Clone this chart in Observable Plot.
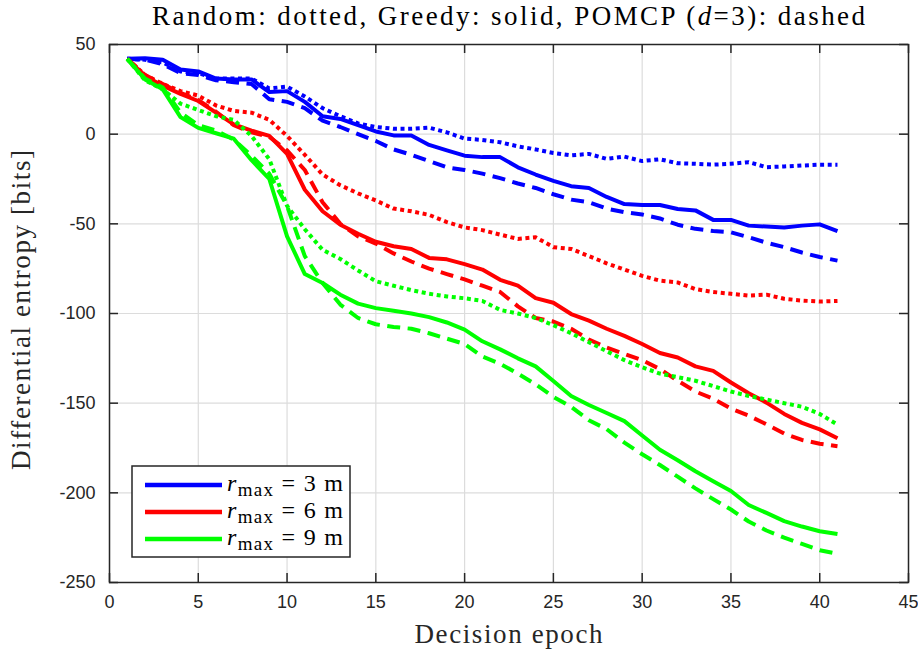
<!DOCTYPE html>
<html>
<head>
<meta charset="utf-8">
<script src="https://cdn.jsdelivr.net/npm/d3@7"></script>
<script src="https://cdn.jsdelivr.net/npm/@observablehq/plot@0.6"></script>
<style>
  html, body { margin: 0; padding: 0; background: #fff; }
  #chart { width: 918px; height: 653px; }
</style>
</head>
<body>
<div id="chart"></div>
<script>
// Decision epochs
const epochs = [1,2,3,4,5,6,7,8,9,10,11,12,13,14,15,16,17,18,19,20,21,22,23,24,25,26,27,28,29,30,31,32,33,34,35,36,37,38,39,40,41];

// Differential entropy [bits], r_max = 3 m
const r3Random = [42,41.5,40,35,34,31,31,31,25.5,26.5,21,14.5,10,6,4,3,3,3.6,1,-2.5,-3.2,-4.5,-6.8,-8.5,-10.5,-11.8,-11,-13.8,-12.5,-15,-14,-16.2,-16.5,-17,-16.5,-15.6,-18.4,-18,-17.5,-17,-17];
const r3Greedy = [42,42.3,41.5,36,35,31,30.5,30.5,23.5,24,18,10,8.5,5,1.5,-0.7,-0.7,-6,-9,-12,-12.8,-12.8,-18.5,-22.5,-26,-29,-30,-35,-39,-39.5,-39.5,-41.7,-42.5,-47.8,-47.8,-51,-51.5,-52,-51,-50.3,-54];
const r3Pomcp = [42,41.5,39,34,33,30,29,28,19.5,18,14.5,7.5,4,0,-3.8,-8.5,-11.5,-15,-18.5,-20,-22,-24.5,-27.5,-30,-33.5,-36.5,-38,-41.5,-43.5,-44.8,-47,-50.5,-52.8,-54,-54.7,-57.5,-60.5,-63,-66,-68.5,-70.5];

// r_max = 6 m
const r6Random = [42,33,28,24,21.5,16,13,12,8,-1,-11.5,-22.5,-28.5,-33,-37,-41.5,-43,-45,-49,-52,-53.5,-56,-58.4,-57.5,-63,-64,-68,-72,-75.5,-79,-81.7,-82.7,-86.4,-88,-89,-90,-89.5,-91.8,-92.8,-93.3,-93];
const r6Greedy = [42,32.5,27,22.5,18.5,12,5.5,2,-1,-11,-31,-43,-50.5,-55.5,-60,-62.5,-64,-69,-69.8,-72.5,-75.5,-81.2,-84.5,-91.4,-94,-100.3,-104,-108.5,-112.5,-117,-122,-124.5,-129.5,-132,-138.5,-144.5,-149.7,-156,-161,-164.6,-169.6];
const r6Pomcp = [42,33,28,23,19,12.5,5,1,-1.5,-9,-20,-38,-50,-57,-61,-66.5,-71,-75,-78,-81,-84.5,-88,-96,-102.5,-104.5,-108.5,-114.5,-119,-122.5,-126,-131,-137.5,-143.5,-147.5,-153,-157,-161.8,-167,-170.5,-172.6,-174];

// r_max = 9 m
const r9Random = [42,30,25,17,13.5,10,8,-1,-14,-40,-53,-64.5,-69.6,-76,-82,-84.5,-87,-89,-90.5,-91.5,-93,-98,-100,-102.5,-106.5,-111,-116,-121,-126,-130,-133.5,-135.5,-137.5,-140.5,-143.5,-146,-148,-150,-152,-156,-162];
const r9Greedy = [42,30.5,25,9.5,3.5,0.5,-2.5,-14.5,-25,-57,-78,-83,-89.5,-94.5,-97,-98.5,-100,-102,-105,-109,-115.5,-120,-125,-129.5,-137.6,-146,-151,-155.5,-160,-168,-176,-181.8,-188,-193.5,-199,-206.8,-211.2,-215.8,-218.8,-221.4,-223];
const r9Pomcp = [42,31,26,12,5,2,-3,-12,-22,-40,-68,-83,-95,-102.5,-106,-107.5,-108.5,-111,-114,-117,-124,-128,-133.5,-139.5,-146.5,-152,-159.5,-164.5,-172,-178.5,-184.5,-191,-197.5,-203.5,-209.3,-216,-221,-225,-228.5,-232,-234];

// Axis ticks
const xTicks = [0,5,10,15,20,25,30,35,40,45];
const yTicks = [50,0,-50,-100,-150,-200,-250];

// Legend entries
const radii = ["3", "6", "9"];
const colors = ["#0000ff", "#ff0000", "#00ff00"];

// Line styles per policy
const policyDash = { Random: "4,3.6", Greedy: null, POMCP: "13,7.5" };

const seriesList = [
  { r: "3", policy: "Random", values: r3Random },
  { r: "3", policy: "Greedy", values: r3Greedy },
  { r: "3", policy: "POMCP",  values: r3Pomcp },
  { r: "6", policy: "Random", values: r6Random },
  { r: "6", policy: "Greedy", values: r6Greedy },
  { r: "6", policy: "POMCP",  values: r6Pomcp },
  { r: "9", policy: "Random", values: r9Random },
  { r: "9", policy: "Greedy", values: r9Greedy },
  { r: "9", policy: "POMCP",  values: r9Pomcp }
];

const W = 918, H = 653;
const mL = 109, mR = 10, mT = 44, mB = 71;
const plotW = W - mL - mR, plotH = H - mT - mB;
const tickLen = 9;
const axisColor = "#262626";
const serif = "'Liberation Serif', 'DejaVu Serif', serif";

const lineMarks = seriesList.map(s => {
  const data = epochs.map((e, i) => ({ epoch: e, h: s.values[i] }));
  const color = colors[radii.indexOf(s.r)];
  const opts = { x: "epoch", y: "h", stroke: color, strokeWidth: 4, strokeLinejoin: "round", strokeLinecap: "butt" };
  if (policyDash[s.policy]) opts.strokeDasharray = policyDash[s.policy];
  return Plot.lineY(data, opts);
});

const chart = Plot.plot({
  width: W,
  height: H,
  marginLeft: mL,
  marginRight: mR,
  marginTop: mT,
  marginBottom: mB,
  style: { fontFamily: "'Liberation Sans', Arial, sans-serif", fontSize: "18px", color: axisColor, background: "#fff" },
  x: { domain: [0, 45] },
  y: { domain: [-250, 50] },
  marks: [
    Plot.gridX(xTicks, { stroke: "#dcdcdc", strokeOpacity: 1, strokeWidth: 1.2 }),
    Plot.gridY(yTicks, { stroke: "#dcdcdc", strokeOpacity: 1, strokeWidth: 1.2 }),
    ...lineMarks,
    Plot.frame({ stroke: axisColor, strokeWidth: 1.5 }),
    // inward ticks on all four sides
    Plot.tickX(xTicks, { x: d => d, insetTop: plotH - tickLen, stroke: axisColor, strokeWidth: 1.5 }),
    Plot.tickX(xTicks, { x: d => d, insetBottom: plotH - tickLen, stroke: axisColor, strokeWidth: 1.5 }),
    Plot.tickY(yTicks, { y: d => d, insetRight: plotW - tickLen, stroke: axisColor, strokeWidth: 1.5 }),
    Plot.tickY(yTicks, { y: d => d, insetLeft: plotW - tickLen, stroke: axisColor, strokeWidth: 1.5 }),
    Plot.axisX(xTicks, { tickSize: 0, tickPadding: 13, label: null, fontSize: 18, tickFormat: d => String(d) }),
    Plot.axisY(yTicks, { tickSize: 0, tickPadding: 14, label: null, fontSize: 18, tickFormat: d => String(d) })
  ]
});

document.getElementById("chart").appendChild(chart);

const svg = d3.select(chart);
const cx = mL + plotW / 2;

// Title with italic depth symbol
const title = svg.append("text")
  .attr("x", cx)
  .attr("y", 25)
  .attr("text-anchor", "middle")
  .attr("font-family", serif)
  .attr("font-size", 27)
  .attr("fill", "#000")
  .attr("textLength", 713)
  .attr("lengthAdjust", "spacing");
title.append("tspan").text("Random: dotted, Greedy: solid, POMCP (");
title.append("tspan").attr("font-style", "italic").text("d");
title.append("tspan").text("=3): dashed");

// Axis titles
svg.append("text")
  .attr("x", cx).attr("y", 643)
  .attr("text-anchor", "middle")
  .attr("font-family", serif).attr("font-size", 27).attr("fill", axisColor)
  .attr("textLength", 188).attr("lengthAdjust", "spacing")
  .text("Decision epoch");
svg.append("text")
  .attr("transform", `translate(30,${mT + plotH / 2 - 3}) rotate(-90)`)
  .attr("text-anchor", "middle")
  .attr("font-family", serif).attr("font-size", 27).attr("fill", axisColor)
  .attr("textLength", 320).attr("lengthAdjust", "spacing")
  .text("Differential entropy [bits]");

// Legend box (lower left)
const lg = svg.append("g").attr("transform", "translate(132,466)");
lg.append("rect")
  .attr("width", 218).attr("height", 91)
  .attr("fill", "#fff").attr("stroke", axisColor).attr("stroke-width", 1.5);
radii.forEach((r, i) => {
  const y = 19 + i * 27;
  lg.append("line")
    .attr("x1", 13).attr("x2", 90).attr("y1", y).attr("y2", y)
    .attr("stroke", colors[i]).attr("stroke-width", 4.5);
  const t = lg.append("text")
    .attr("x", 95).attr("y", y + 6)
    .attr("text-anchor", "start")
    .attr("font-family", serif).attr("font-size", 24).attr("fill", "#000")
    .attr("textLength", 116).attr("lengthAdjust", "spacing");
  t.append("tspan").attr("font-style", "italic").text("r");
  t.append("tspan").attr("dy", 5).attr("font-size", 19).text("max");
  t.append("tspan").attr("dy", -5).text(" = " + r + " m");
});
</script>
</body>
</html>
